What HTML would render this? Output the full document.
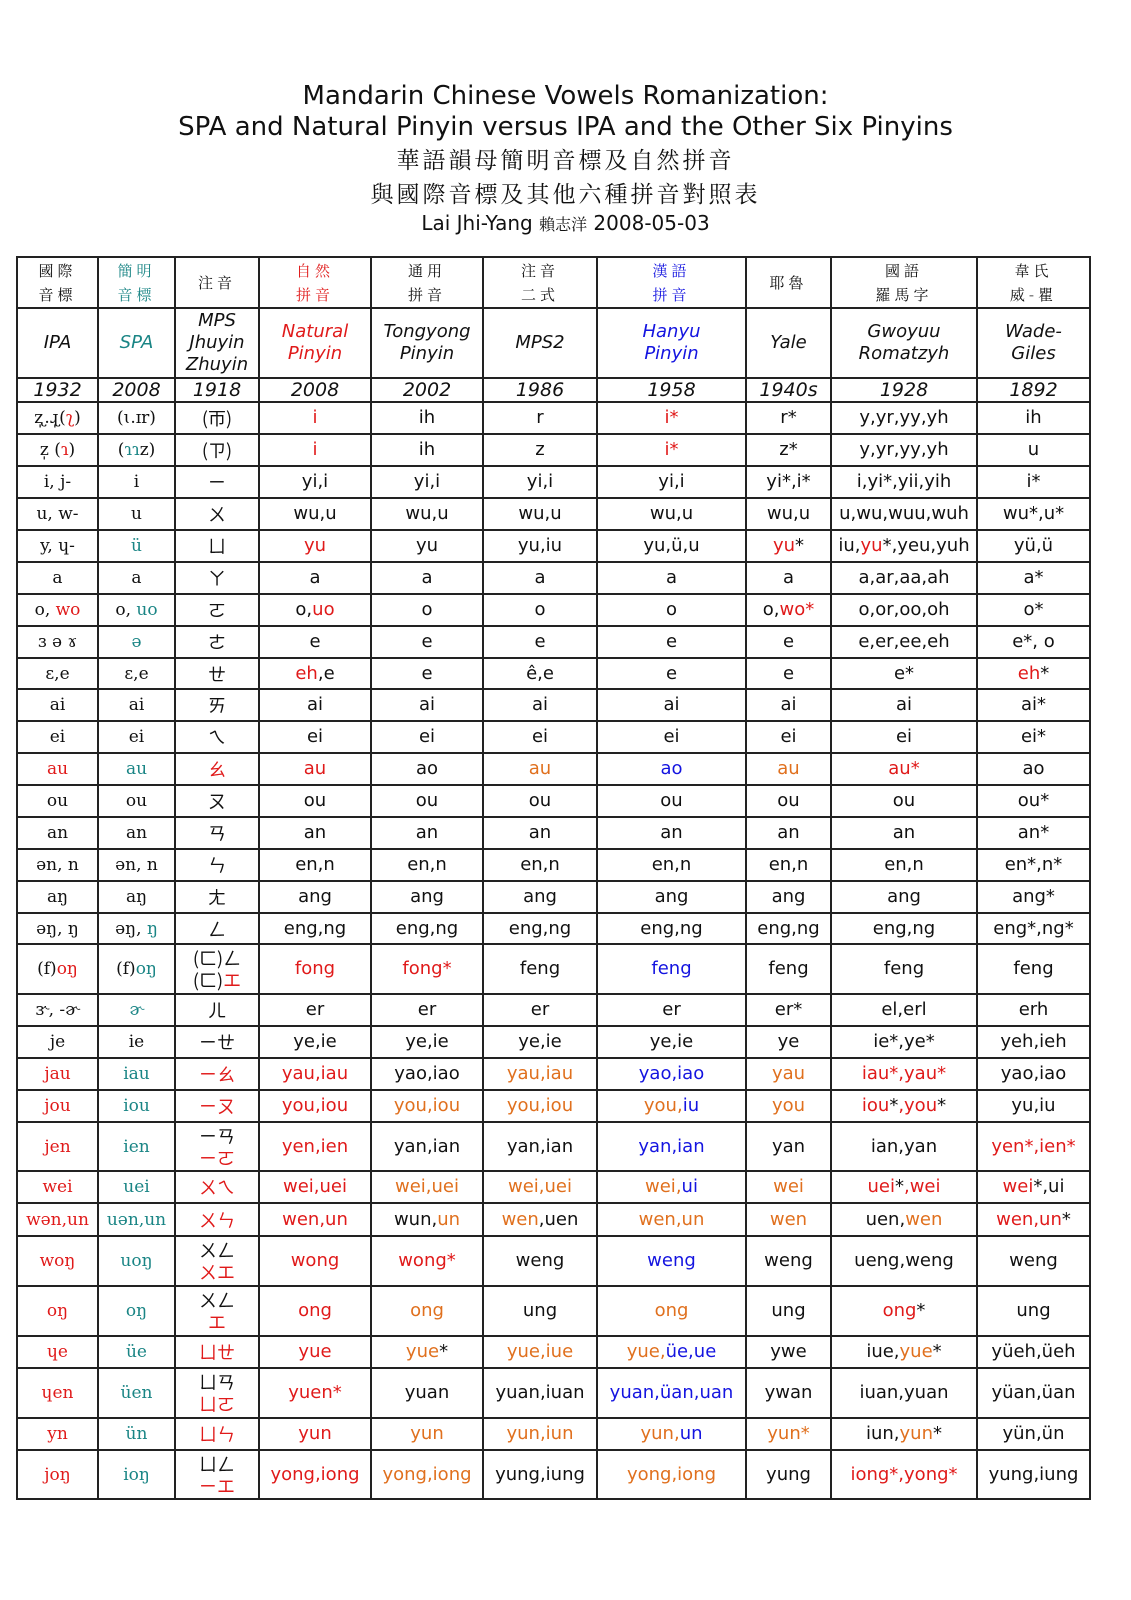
<!DOCTYPE html>
<html><head><meta charset="utf-8"><style>
body{margin:0;width:1131px;height:1600px;background:#fff;position:relative;font-family:"DejaVu Sans","Liberation Sans","Noto Sans CJK TC",sans-serif;color:#111}
.tt{position:absolute;left:0;width:1131px;text-align:center;white-space:nowrap}
table{position:absolute;left:16px;top:256px;width:1073px;border-collapse:collapse;table-layout:fixed}
td{border:2px solid #222;text-align:center;vertical-align:middle;padding:0;font-size:18px;line-height:22px;white-space:nowrap;overflow:hidden}
td.s{font-family:"DejaVu Serif","Liberation Serif","Noto Serif CJK SC",serif;font-size:17px}
td.z{font-family:"Noto Sans CJK TC","Noto Sans CJK SC",sans-serif;font-size:18px;line-height:22px}
tr.h1 td{font-family:"Noto Serif CJK SC","Noto Sans CJK TC",serif;font-size:15px;letter-spacing:4px;line-height:24px}
tr.h2 td{font-style:italic;font-size:18px;line-height:22px}
tr.h3 td{font-style:italic;font-size:19px}
.r{color:#e01a1a}.o{color:#e0701e}.b{color:#1414e0}.t{color:#1a8585}
</style></head><body>
<div class="tt" style="top:81px;font-size:26px">Mandarin Chinese Vowels Romanization:</div>
<div class="tt" style="top:112px;font-size:26px">SPA and Natural Pinyin versus IPA and the Other Six Pinyins</div>
<div class="tt" style="top:142px;font-size:23px;letter-spacing:3px;font-family:'Noto Serif CJK SC',serif">華語韻母簡明音標及自然拼音</div>
<div class="tt" style="top:176px;font-size:23px;letter-spacing:3px;font-family:'Noto Serif CJK SC',serif">與國際音標及其他六種拼音對照表</div>
<div class="tt" style="top:211px;font-size:20px">Lai Jhi-Yang <span style="font-family:'Noto Serif CJK SC',serif;font-size:16px">賴志洋</span> 2008-05-03</div>
<table>
<colgroup><col style="width:81px"><col style="width:77px"><col style="width:84px"><col style="width:112px"><col style="width:112px"><col style="width:114px"><col style="width:149px"><col style="width:85px"><col style="width:146px"><col style="width:113px"></colgroup>
<tr class="h1" style="height:51px"><td>國際<br>音標</td><td class="t">簡明<br>音標</td><td>注音</td><td class="r">自然<br>拼音</td><td>通用<br>拼音</td><td>注音<br>二式</td><td class="b">漢語<br>拼音</td><td>耶魯</td><td>國語<br>羅馬字</td><td>韋氏<br>威-瞿</td></tr>
<tr class="h2" style="height:70px"><td>IPA</td><td class="t">SPA</td><td>MPS<br>Jhuyin<br>Zhuyin</td><td class="r">Natural<br>Pinyin</td><td>Tongyong<br>Pinyin</td><td>MPS2</td><td class="b">Hanyu<br>Pinyin</td><td>Yale</td><td>Gwoyuu<br>Romatzyh</td><td>Wade-<br>Giles</td></tr>
<tr class="h3" style="height:24px"><td>1932</td><td>2008</td><td>1918</td><td>2008</td><td>2002</td><td>1986</td><td>1958</td><td>1940s</td><td>1928</td><td>1892</td></tr>
<tr style="height:32px"><td class="s">ʐ̩.ɻ̩(<span class="r">ʅ</span>)</td><td class="s">(ɩ.ɪr)</td><td class="z">(帀)</td><td class="r">i</td><td>ih</td><td>r</td><td class="r">i*</td><td>r*</td><td>y,yr,yy,yh</td><td>ih</td></tr>
<tr style="height:32px"><td class="s">z̩ (<span class="r">ɿ</span>)</td><td class="s">(<span class="t">ɿɿ</span>z)</td><td class="z">(ㄗ)</td><td class="r">i</td><td>ih</td><td>z</td><td class="r">i*</td><td>z*</td><td>y,yr,yy,yh</td><td>u</td></tr>
<tr style="height:32px"><td class="s">i, j-</td><td class="s">i</td><td class="z">ㄧ</td><td>yi,i</td><td>yi,i</td><td>yi,i</td><td>yi,i</td><td>yi*,i*</td><td>i,yi*,yii,yih</td><td>i*</td></tr>
<tr style="height:32px"><td class="s">u, w-</td><td class="s">u</td><td class="z">ㄨ</td><td>wu,u</td><td>wu,u</td><td>wu,u</td><td>wu,u</td><td>wu,u</td><td>u,wu,wuu,wuh</td><td>wu*,u*</td></tr>
<tr style="height:32px"><td class="s">y, ɥ-</td><td class="s t">ü</td><td class="z">ㄩ</td><td class="r">yu</td><td>yu</td><td>yu,iu</td><td>yu,ü,u</td><td><span class="r">yu</span>*</td><td>iu,<span class="r">yu</span>*,yeu,yuh</td><td>yü,ü</td></tr>
<tr style="height:32px"><td class="s">a</td><td class="s">a</td><td class="z">ㄚ</td><td>a</td><td>a</td><td>a</td><td>a</td><td>a</td><td>a,ar,aa,ah</td><td>a*</td></tr>
<tr style="height:32px"><td class="s">o, <span class="r">wo</span></td><td class="s">o, <span class="t">uo</span></td><td class="z">ㄛ</td><td>o,<span class="r">uo</span></td><td>o</td><td>o</td><td>o</td><td>o,<span class="r">wo*</span></td><td>o,or,oo,oh</td><td>o*</td></tr>
<tr style="height:32px"><td class="s">ɜ ə ɤ</td><td class="s t">ə</td><td class="z">ㄜ</td><td>e</td><td>e</td><td>e</td><td>e</td><td>e</td><td>e,er,ee,eh</td><td>e*, o</td></tr>
<tr style="height:31px"><td class="s">ɛ,e</td><td class="s">ɛ,e</td><td class="z">ㄝ</td><td><span class="r">eh</span>,e</td><td>e</td><td>ê,e</td><td>e</td><td>e</td><td>e*</td><td><span class="r">eh</span>*</td></tr>
<tr style="height:32px"><td class="s">ai</td><td class="s">ai</td><td class="z">ㄞ</td><td>ai</td><td>ai</td><td>ai</td><td>ai</td><td>ai</td><td>ai</td><td>ai*</td></tr>
<tr style="height:32px"><td class="s">ei</td><td class="s">ei</td><td class="z">ㄟ</td><td>ei</td><td>ei</td><td>ei</td><td>ei</td><td>ei</td><td>ei</td><td>ei*</td></tr>
<tr style="height:32px"><td class="s r">au</td><td class="s t">au</td><td class="z r">ㄠ</td><td class="r">au</td><td>ao</td><td class="o">au</td><td class="b">ao</td><td class="o">au</td><td class="r">au*</td><td>ao</td></tr>
<tr style="height:32px"><td class="s">ou</td><td class="s">ou</td><td class="z">ㄡ</td><td>ou</td><td>ou</td><td>ou</td><td>ou</td><td>ou</td><td>ou</td><td>ou*</td></tr>
<tr style="height:32px"><td class="s">an</td><td class="s">an</td><td class="z">ㄢ</td><td>an</td><td>an</td><td>an</td><td>an</td><td>an</td><td>an</td><td>an*</td></tr>
<tr style="height:32px"><td class="s">ən, n</td><td class="s">ən, n</td><td class="z">ㄣ</td><td>en,n</td><td>en,n</td><td>en,n</td><td>en,n</td><td>en,n</td><td>en,n</td><td>en*,n*</td></tr>
<tr style="height:32px"><td class="s">aŋ</td><td class="s">aŋ</td><td class="z">ㄤ</td><td>ang</td><td>ang</td><td>ang</td><td>ang</td><td>ang</td><td>ang</td><td>ang*</td></tr>
<tr style="height:31px"><td class="s">əŋ, ŋ</td><td class="s">əŋ, <span class="t">ŋ</span></td><td class="z">ㄥ</td><td>eng,ng</td><td>eng,ng</td><td>eng,ng</td><td>eng,ng</td><td>eng,ng</td><td>eng,ng</td><td>eng*,ng*</td></tr>
<tr style="height:50px"><td class="s">(f)<span class="r">oŋ</span></td><td class="s">(f)<span class="t">oŋ</span></td><td class="z">(ㄈ)ㄥ<br>(ㄈ)<span class="r">エ</span></td><td class="r">fong</td><td class="r">fong*</td><td>feng</td><td class="b">feng</td><td>feng</td><td>feng</td><td>feng</td></tr>
<tr style="height:32px"><td class="s">ɝ, -ɚ</td><td class="s t">ɚ</td><td class="z">ㄦ</td><td>er</td><td>er</td><td>er</td><td>er</td><td>er*</td><td>el,erl</td><td>erh</td></tr>
<tr style="height:32px"><td class="s">je</td><td class="s">ie</td><td class="z">ㄧㄝ</td><td>ye,ie</td><td>ye,ie</td><td>ye,ie</td><td>ye,ie</td><td>ye</td><td>ie*,ye*</td><td>yeh,ieh</td></tr>
<tr style="height:32px"><td class="s r">jau</td><td class="s t">iau</td><td class="z r">ㄧㄠ</td><td class="r">yau,iau</td><td>yao,iao</td><td class="o">yau,iau</td><td class="b">yao,iao</td><td class="o">yau</td><td class="r">iau*,yau*</td><td>yao,iao</td></tr>
<tr style="height:32px"><td class="s r">jou</td><td class="s t">iou</td><td class="z r">ㄧㄡ</td><td class="r">you,iou</td><td class="o">you,iou</td><td class="o">you,iou</td><td><span class="o">you,</span><span class="b">iu</span></td><td class="o">you</td><td><span class="r">iou</span>*<span class="r">,you</span>*</td><td>yu,iu</td></tr>
<tr style="height:49px"><td class="s r">jen</td><td class="s t">ien</td><td class="z">ㄧㄢ<br><span class="r">ㄧㄛ</span></td><td class="r">yen,ien</td><td>yan,ian</td><td>yan,ian</td><td class="b">yan,ian</td><td>yan</td><td>ian,yan</td><td class="r">yen*,ien*</td></tr>
<tr style="height:32px"><td class="s r">wei</td><td class="s t">uei</td><td class="z r">ㄨㄟ</td><td class="r">wei,uei</td><td class="o">wei,uei</td><td class="o">wei,uei</td><td><span class="o">wei,</span><span class="b">ui</span></td><td class="o">wei</td><td><span class="r">uei</span>*<span class="r">,wei</span></td><td><span class="r">wei</span>*,ui</td></tr>
<tr style="height:33px"><td class="s r">wən,un</td><td class="s t">uən,un</td><td class="z r">ㄨㄣ</td><td class="r">wen,un</td><td>wun,<span class="o">un</span></td><td><span class="o">wen</span>,uen</td><td class="o">wen,un</td><td class="o">wen</td><td>uen,<span class="o">wen</span></td><td><span class="r">wen,un</span>*</td></tr>
<tr style="height:50px"><td class="s r">woŋ</td><td class="s t">uoŋ</td><td class="z">ㄨㄥ<br><span class="r">ㄨエ</span></td><td class="r">wong</td><td class="r">wong*</td><td>weng</td><td class="b">weng</td><td>weng</td><td>ueng,weng</td><td>weng</td></tr>
<tr style="height:50px"><td class="s r">oŋ</td><td class="s t">oŋ</td><td class="z">ㄨㄥ<br><span class="r">エ</span></td><td class="r">ong</td><td class="o">ong</td><td>ung</td><td class="o">ong</td><td>ung</td><td><span class="r">ong</span>*</td><td>ung</td></tr>
<tr style="height:32px"><td class="s r">ɥe</td><td class="s t">üe</td><td class="z r">ㄩㄝ</td><td class="r">yue</td><td><span class="o">yue</span>*</td><td class="o">yue,iue</td><td><span class="o">yue,</span><span class="b">üe,ue</span></td><td>ywe</td><td>iue,<span class="o">yue</span>*</td><td>yüeh,üeh</td></tr>
<tr style="height:50px"><td class="s r">ɥen</td><td class="s t">üen</td><td class="z">ㄩㄢ<br><span class="r">ㄩㄛ</span></td><td class="r">yuen*</td><td>yuan</td><td>yuan,iuan</td><td class="b">yuan,üan,uan</td><td>ywan</td><td>iuan,yuan</td><td>yüan,üan</td></tr>
<tr style="height:32px"><td class="s r">yn</td><td class="s t">ün</td><td class="z r">ㄩㄣ</td><td class="r">yun</td><td class="o">yun</td><td class="o">yun,iun</td><td><span class="o">yun,</span><span class="b">un</span></td><td class="o">yun*</td><td>iun,<span class="o">yun</span>*</td><td>yün,ün</td></tr>
<tr style="height:49px"><td class="s r">joŋ</td><td class="s t">ioŋ</td><td class="z">ㄩㄥ<br><span class="r">ㄧエ</span></td><td class="r">yong,iong</td><td class="o">yong,iong</td><td>yung,iung</td><td class="o">yong,iong</td><td>yung</td><td class="r">iong*,yong*</td><td>yung,iung</td></tr>
</table>
</body></html>
